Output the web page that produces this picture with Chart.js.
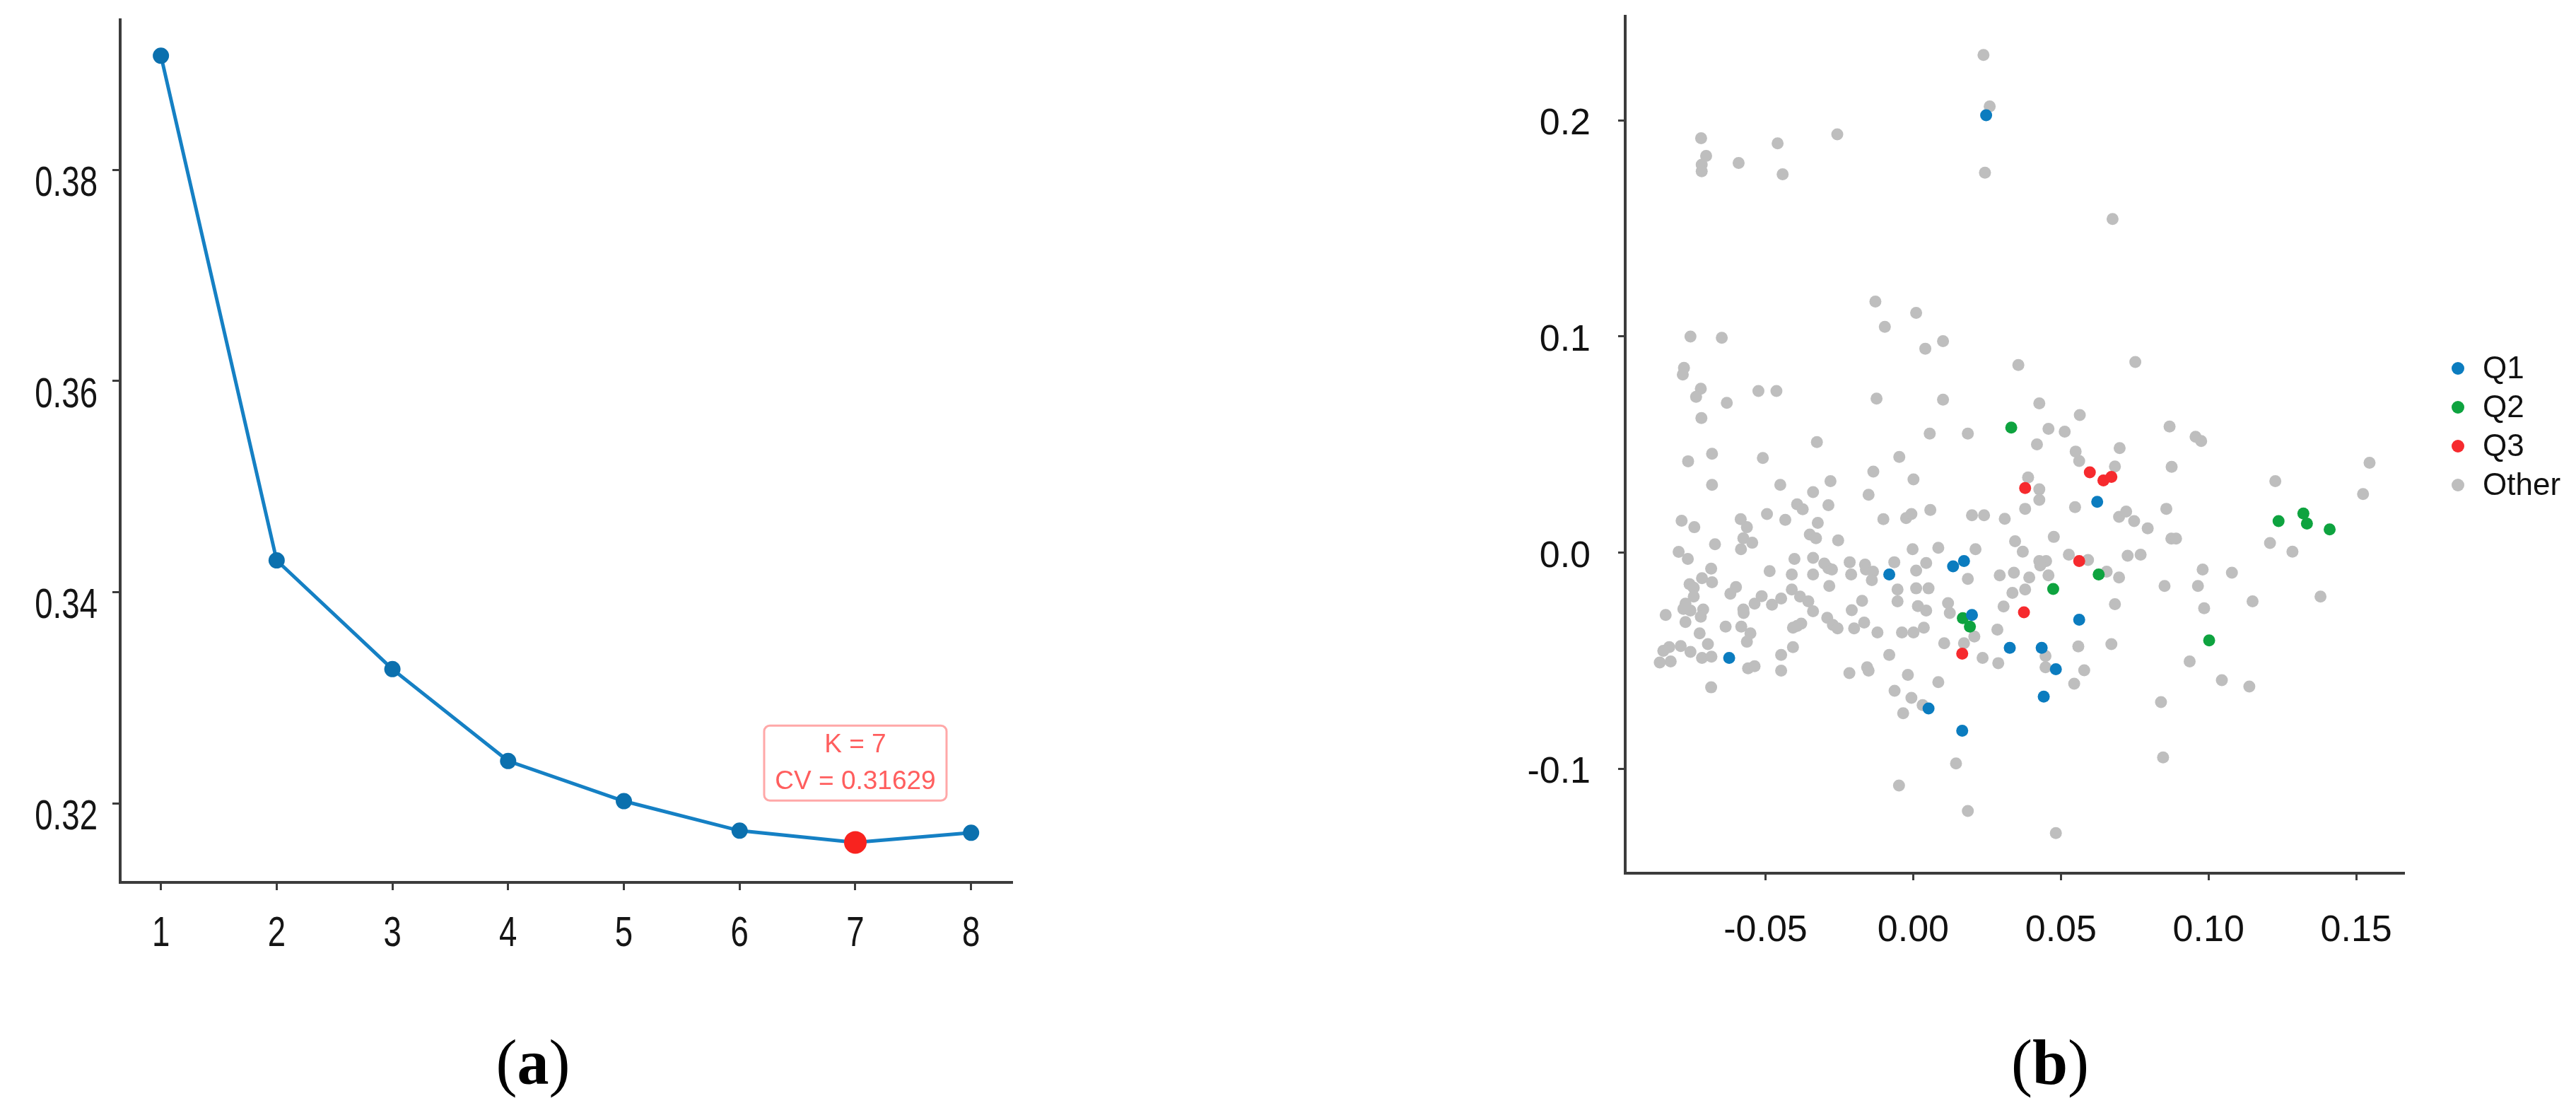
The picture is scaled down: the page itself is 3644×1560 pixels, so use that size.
<!DOCTYPE html>
<html>
<head>
<meta charset="utf-8">
<script src="https://cdn.jsdelivr.net/npm/chart.js@4.4.0/dist/chart.umd.min.js"></script>
<style>
  html, body { margin: 0; padding: 0; background: #ffffff; }
  body { width: 3644px; height: 1560px; position: relative; overflow: hidden; }
  #cA { position: absolute; left: 0px; top: 0px; }
  #cB { position: absolute; left: 2100px; top: 0px; }
  .cap { position: absolute; top: 1458px; font-family: 'Liberation Serif', 'Times New Roman', serif;
         font-size: 90px; color: #000; transform: translateX(-50%); white-space: nowrap; line-height: 1; }
</style>
</head>
<body>
<canvas id="cA" width="1560" height="1420"></canvas>
<canvas id="cB" width="1544" height="1420"></canvas>
<div class="cap" style="left:754px">(<b>a</b>)</div>
<div class="cap" style="left:2900px">(<b>b</b>)</div>
<script>
// ---------------- Panel (a) data ----------------
const kValues  = [1, 2, 3, 4, 5, 6, 7, 8];
const cvValues = [0.3908, 0.3430, 0.3327, 0.3240, 0.3202, 0.3174, 0.31629, 0.3172];
const bestK    = 7;
const xTicksA  = [1, 2, 3, 4, 5, 6, 7, 8];
const yTicksA  = [0.32, 0.34, 0.36, 0.38];

// ---------------- Panel (b) data ----------------
const xTicksB = [-0.05, 0.00, 0.05, 0.10, 0.15];
const yTicksB = [-0.1, 0.0, 0.1, 0.2];
const groupNames = ['Q1', 'Q2', 'Q3', 'Other'];

const q1Points = [
  [0.0247, 0.2023], [0.0135, -0.0064], [0.0172, -0.0040], [-0.0081, -0.0102],
  [0.0199, -0.0289], [-0.0623, -0.0488], [0.0052, -0.0722], [0.0166, -0.0825],
  [0.0623, 0.0234], [0.0562, -0.0311], [0.0327, -0.0441], [0.0435, -0.0441],
  [0.0483, -0.0540], [0.0442, -0.0667]
];
const q2Points = [
  [0.0332, 0.0578], [0.0168, -0.0304], [0.0192, -0.0343], [0.1237, 0.0145],
  [0.1321, 0.0180], [0.1333, 0.0134], [0.1410, 0.0107], [0.0628, -0.0102],
  [0.0474, -0.0169], [0.1002, -0.0407]
];
const q3Points = [
  [0.0598, 0.0371], [0.0644, 0.0333], [0.0671, 0.0350], [0.0379, 0.0298],
  [0.0562, -0.0040], [0.0166, -0.0468], [0.0375, -0.0277]
];
const otherPoints = [
  // upper region
  [0.0238, 0.2302], [0.0259, 0.2064], [-0.0718, 0.1917], [-0.0701, 0.1835], [-0.0716, 0.1794],
  [-0.0716, 0.1764], [-0.0591, 0.1802], [-0.0459, 0.1893], [-0.0442, 0.1750], [-0.0257, 0.1935],
  [0.0243, 0.1757], [0.0675, 0.1543],
  // left, middle band
  [-0.0128, 0.1161], [0.0010, 0.1109], [-0.0096, 0.1044], [-0.0754, 0.0999], [-0.0648, 0.0993],
  [0.0041, 0.0943], [0.0101, 0.0978], [-0.0776, 0.0854], [-0.0780, 0.0823], [-0.0719, 0.0758],
  [-0.0735, 0.0720], [-0.0524, 0.0747], [-0.0463, 0.0747], [-0.0631, 0.0692], [-0.0124, 0.0712],
  [0.0101, 0.0707], [-0.0717, 0.0622], [-0.0326, 0.0511], [0.0056, 0.0550], [0.0185, 0.0550],
  [-0.0681, 0.0457], [-0.0762, 0.0422], [-0.0509, 0.0437], [-0.0047, 0.0442], [-0.0135, 0.0374],
  [0.0001, 0.0338], [-0.0681, 0.0313], [-0.0450, 0.0313], [-0.0280, 0.0330], [-0.0339, 0.0279],
  [-0.0151, 0.0267], [-0.0393, 0.0223], [-0.0374, 0.0200], [-0.0287, 0.0219], [-0.0495, 0.0178],
  [-0.0784, 0.0147], [-0.0741, 0.0117], [-0.0584, 0.0154], [-0.0563, 0.0117], [-0.0433, 0.0151],
  [-0.0323, 0.0137], [-0.0101, 0.0154], [-0.0024, 0.0159], [-0.0006, 0.0178], [0.0058, 0.0197],
  [0.0199, 0.0172], [0.0240, 0.0172], [-0.0671, 0.0038], [-0.0575, 0.0066], [-0.0545, 0.0045],
  [-0.0583, 0.0015], [-0.0350, 0.0083], [-0.0329, 0.0066], [-0.0254, 0.0056], [-0.0794, 0.0003],
  [-0.0763, -0.0030], [-0.0402, -0.0030], [-0.0339, -0.0025], [-0.0301, -0.0051], [-0.0215, -0.0045],
  [-0.0163, -0.0056], [-0.0002, 0.0015], [0.0085, 0.0022], [0.0211, 0.0015], [0.0044, -0.0049],
  [-0.0064, -0.0045],
  // left, lower band
  [-0.0684, -0.0075], [-0.0486, -0.0086], [-0.0411, -0.0102], [-0.0339, -0.0102], [-0.0287, -0.0073],
  [-0.0275, -0.0079], [-0.0210, -0.0102], [-0.0160, -0.0079], [-0.0136, -0.0089], [-0.0140, -0.0128],
  [0.0010, -0.0084], [0.0185, -0.0122], [-0.0715, -0.0119], [-0.0681, -0.0138], [-0.0757, -0.0147],
  [-0.0743, -0.0163], [-0.0600, -0.0160], [-0.0619, -0.0191], [-0.0284, -0.0155], [-0.0053, -0.0171],
  [0.0010, -0.0166], [0.0052, -0.0166], [-0.0743, -0.0204], [-0.0771, -0.0237], [-0.0778, -0.0261],
  [-0.0754, -0.0269], [-0.0711, -0.0264], [-0.0719, -0.0297], [-0.0771, -0.0322], [-0.0838, -0.0289],
  [-0.0575, -0.0264], [-0.0574, -0.0280], [-0.0537, -0.0237], [-0.0513, -0.0202], [-0.0478, -0.0242],
  [-0.0447, -0.0213], [-0.0411, -0.0171], [-0.0383, -0.0204], [-0.0355, -0.0226], [-0.0339, -0.0272],
  [-0.0291, -0.0302], [-0.0272, -0.0335], [-0.0256, -0.0351], [-0.0208, -0.0267], [-0.0173, -0.0224],
  [-0.0200, -0.0351], [-0.0166, -0.0324], [-0.0121, -0.0370], [-0.0053, -0.0226], [0.0016, -0.0248],
  [0.0044, -0.0269], [-0.0038, -0.0370], [0.0001, -0.0370], [0.0036, -0.0348], [0.0118, -0.0234],
  [0.0124, -0.0280], [0.0207, -0.0389], [0.0105, -0.0420], [0.0172, -0.0420], [0.0235, -0.0488],
  [-0.0635, -0.0343], [-0.0582, -0.0343], [-0.0551, -0.0374], [-0.0563, -0.0413], [-0.0723, -0.0374],
  [-0.0695, -0.0424], [-0.0393, -0.0340], [-0.0379, -0.0329], [-0.0407, -0.0348], [-0.0407, -0.0438],
  [-0.0447, -0.0474], [-0.0447, -0.0547], [-0.0559, -0.0536], [-0.0537, -0.0526], [-0.0826, -0.0438],
  [-0.0846, -0.0455], [-0.0787, -0.0433], [-0.0754, -0.0460], [-0.0858, -0.0509], [-0.0821, -0.0504],
  [-0.0715, -0.0488], [-0.0683, -0.0482], [-0.0684, -0.0624], [-0.0081, -0.0474], [-0.0216, -0.0558],
  [-0.0156, -0.0531], [-0.0151, -0.0547], [-0.0018, -0.0566], [0.0085, -0.0600], [-0.0063, -0.0640],
  [-0.0006, -0.0673], [0.0032, -0.0706], [-0.0034, -0.0744], [0.0145, -0.0976], [-0.0048, -0.1078],
  [0.0185, -0.1196],
  // right, upper-middle
  [0.0356, 0.0867], [0.0752, 0.0881], [0.0427, 0.0690], [0.0564, 0.0636], [0.0458, 0.0572],
  [0.0513, 0.0559], [0.0868, 0.0583], [0.0419, 0.0500], [0.0956, 0.0535], [0.0975, 0.0516],
  [0.0550, 0.0467], [0.0562, 0.0423], [0.0699, 0.0483], [0.0683, 0.0398], [0.0875, 0.0396],
  [0.0389, 0.0347], [0.0427, 0.0292], [0.0427, 0.0243], [0.0379, 0.0202], [0.0548, 0.0210],
  [0.0857, 0.0202], [0.1226, 0.0330], [0.1545, 0.0415], [0.1523, 0.0270], [0.0310, 0.0156],
  [0.0697, 0.0165], [0.0721, 0.0189], [0.0748, 0.0145], [0.0794, 0.0112], [0.0874, 0.0064],
  [0.0890, 0.0064], [0.0345, 0.0052], [0.0371, 0.0004], [0.0476, 0.0072], [0.1208, 0.0044],
  [0.1284, 0.0004], [0.0527, -0.0010], [0.0592, -0.0035], [0.0726, -0.0015], [0.0770, -0.0010],
  [0.0427, -0.0040], [0.0450, -0.0040], [0.0430, -0.0060],
  // right, lower
  [0.0293, -0.0106], [0.0341, -0.0094], [0.0393, -0.0116], [0.0458, -0.0106], [0.0655, -0.0089],
  [0.0697, -0.0116], [0.0980, -0.0079], [0.1079, -0.0094], [0.0851, -0.0155], [0.0964, -0.0155],
  [0.1379, -0.0204], [0.1149, -0.0226], [0.0985, -0.0258], [0.0683, -0.0239], [0.0379, -0.0171],
  [0.0336, -0.0187], [0.0306, -0.0250], [0.0285, -0.0357], [0.0559, -0.0435], [0.0671, -0.0424],
  [0.0936, -0.0504], [0.1045, -0.0591], [0.1138, -0.0620], [0.0288, -0.0512], [0.0448, -0.0479],
  [0.0448, -0.0531], [0.0579, -0.0545], [0.0545, -0.0607], [0.0839, -0.0692], [0.0846, -0.0948],
  [0.0483, -0.1298]
];

// ---------------- styles ----------------
const AXIS_COLOR = '#3c3c3c';
const LINE_BLUE = '#1580c4';
const POINT_BLUE = '#0b70ae';
const HIGHLIGHT_RED = '#f8231f';
const groupColors = ['#0b7cbf', '#0ea33f', '#f62a2e', '#bebebe'];

Chart.defaults.font.family = "'Liberation Sans', Arial, sans-serif";
Chart.defaults.color = '#111';

function fixedTicks(list) {
  return function (scale) { scale.ticks = list.map(v => ({ value: v })); };
}
function fixWidth(w) {
  return function (s) { s.width = w; s.paddingTop = 0; s.paddingBottom = 0; };
}
function fixHeight(h) {
  return function (s) { s.height = h; s.paddingLeft = 0; s.paddingRight = 0; };
}

// ---------------- Panel (a) ----------------
const annotationPlugin = {
  id: 'kAnnot',
  afterDraw(chart) {
    const ctx = chart.ctx;
    const xs = chart.scales.x, ys = chart.scales.y;
    const cx = xs.getPixelForValue(bestK);
    const cy = ys.getPixelForValue(0.3238);
    const w = 258, h = 106, r = 8;
    ctx.save();
    ctx.beginPath();
    ctx.roundRect(cx - w / 2, cy - h / 2, w, h, r);
    ctx.fillStyle = 'rgba(255,255,255,0.9)';
    ctx.fill();
    ctx.lineWidth = 3;
    ctx.strokeStyle = 'rgba(255,110,110,0.6)';
    ctx.stroke();
    ctx.fillStyle = '#ff5e5e';
    ctx.textAlign = 'center';
    ctx.textBaseline = 'middle';
    ctx.font = "37px 'Liberation Sans', Arial, sans-serif";
    ctx.fillText('K = ' + bestK, cx, cy - 25);
    ctx.fillText('CV = ' + cvValues[kValues.indexOf(bestK)].toFixed(5), cx, cy + 27);
    ctx.restore();
  }
};

// condensed tick labels for panel (a), placed at the library's tick positions
const narrowTickPlugin = {
  id: 'narrowTicks',
  afterDraw(chart) {
    const ctx = chart.ctx;
    const xs = chart.scales.x, ys = chart.scales.y;
    const sx = 0.76;
    ctx.save();
    ctx.font = "60px 'Liberation Sans', Arial, sans-serif";
    ctx.fillStyle = '#151515';
    ctx.textBaseline = 'alphabetic';
    xs.ticks.forEach(t => {
      const px = xs.getPixelForValue(t.value);
      ctx.save();
      ctx.translate(px, xs.top + 90);
      ctx.scale(sx, 1);
      ctx.textAlign = 'center';
      ctx.fillText(String(t.value), 0, 0);
      ctx.restore();
    });
    ys.ticks.forEach(t => {
      const py = ys.getPixelForValue(t.value);
      ctx.save();
      ctx.translate(ys.right - 32, py + 37);
      ctx.scale(sx, 1);
      ctx.textAlign = 'right';
      ctx.fillText(t.value.toFixed(2), 0, 0);
      ctx.restore();
    });
    ctx.restore();
  }
};

new Chart(document.getElementById('cA'), {
  type: 'line',
  data: {
    datasets: [
      {
        data: [{ x: bestK, y: cvValues[kValues.indexOf(bestK)] }],
        showLine: false,
        pointRadius: 16,
        pointBackgroundColor: HIGHLIGHT_RED,
        pointBorderWidth: 0,
        order: 1
      },
      {
        data: kValues.map((k, i) => ({ x: k, y: cvValues[i] })),
        borderColor: LINE_BLUE,
        borderWidth: 5,
        tension: 0,
        pointRadius: 11.5,
        pointBackgroundColor: POINT_BLUE,
        pointBorderWidth: 0,
        order: 2
      }
    ]
  },
  options: {
    responsive: false,
    animation: false,
    devicePixelRatio: 1,
    layout: { padding: { left: 0, top: 28, right: 129, bottom: 0 } },
    plugins: { legend: { display: false }, tooltip: { enabled: false } },
    scales: {
      x: {
        type: 'linear', min: 0.648, max: 8.35,
        afterBuildTicks: fixedTicks(xTicksA),
        afterFit: fixHeight(172),
        grid: { display: true, drawOnChartArea: false, drawTicks: true, tickLength: 11, color: AXIS_COLOR, lineWidth: 3 },
        border: { display: true, color: AXIS_COLOR, width: 4 },
        ticks: { display: false }
      },
      y: {
        type: 'linear', min: 0.3125, max: 0.3942,
        afterBuildTicks: fixedTicks(yTicksA),
        afterFit: fixWidth(170),
        grid: { display: true, drawOnChartArea: false, drawTicks: true, tickLength: 11, color: AXIS_COLOR, lineWidth: 3 },
        border: { display: true, color: AXIS_COLOR, width: 4 },
        ticks: { display: false }
      }
    }
  },
  plugins: [annotationPlugin, narrowTickPlugin]
});

// ---------------- Panel (b) ----------------
const legendPlugin = {
  id: 'groupLegend',
  afterDraw(chart) {
    const ctx = chart.ctx;
    const x0 = 1377, y0 = 521, dy = 55;
    ctx.save();
    ctx.font = "44px 'Liberation Sans', Arial, sans-serif";
    ctx.textBaseline = 'middle';
    ctx.textAlign = 'left';
    groupNames.forEach((name, i) => {
      const y = y0 + i * dy;
      ctx.beginPath();
      ctx.arc(x0, y, 9, 0, Math.PI * 2);
      ctx.fillStyle = groupColors[i];
      ctx.fill();
      ctx.fillStyle = '#111';
      ctx.fillText(name, x0 + 35, y + 2);
    });
    ctx.restore();
  }
};

const groupPoints = [q1Points, q2Points, q3Points, otherPoints];
const tickFontB = { family: "'Liberation Sans', Arial, sans-serif", size: 52 };

new Chart(document.getElementById('cB'), {
  type: 'scatter',
  data: {
    datasets: groupPoints.map((pts, i) => ({
      label: groupNames[i],
      data: pts.map(p => ({ x: p[0], y: p[1] })),
      pointRadius: 8.5,
      pointBackgroundColor: groupColors[i],
      pointBorderWidth: 0,
      order: i + 1
    }))
  },
  options: {
    responsive: false,
    animation: false,
    devicePixelRatio: 1,
    layout: { padding: { left: 0, top: 23, right: 244, bottom: 0 } },
    plugins: { legend: { display: false }, tooltip: { enabled: false } },
    scales: {
      x: {
        type: 'linear', min: -0.0975, max: 0.166,
        afterBuildTicks: fixedTicks(xTicksB),
        afterFit: fixHeight(185),
        grid: { display: true, drawOnChartArea: false, drawTicks: true, tickLength: 10, color: AXIS_COLOR, lineWidth: 3 },
        border: { display: true, color: AXIS_COLOR, width: 4 },
        ticks: { font: tickFontB, color: '#111', padding: 40, maxRotation: 0, callback: v => v.toFixed(2) }
      },
      y: {
        type: 'linear', min: -0.1484, max: 0.2481,
        afterBuildTicks: fixedTicks(yTicksB),
        afterFit: fixWidth(199),
        grid: { display: true, drawOnChartArea: false, drawTicks: true, tickLength: 10, color: AXIS_COLOR, lineWidth: 3 },
        border: { display: true, color: AXIS_COLOR, width: 4 },
        ticks: { font: tickFontB, color: '#111', padding: 39, labelOffset: 6, callback: v => v.toFixed(1) }
      }
    }
  },
  plugins: [legendPlugin]
});
</script>
</body>
</html>
